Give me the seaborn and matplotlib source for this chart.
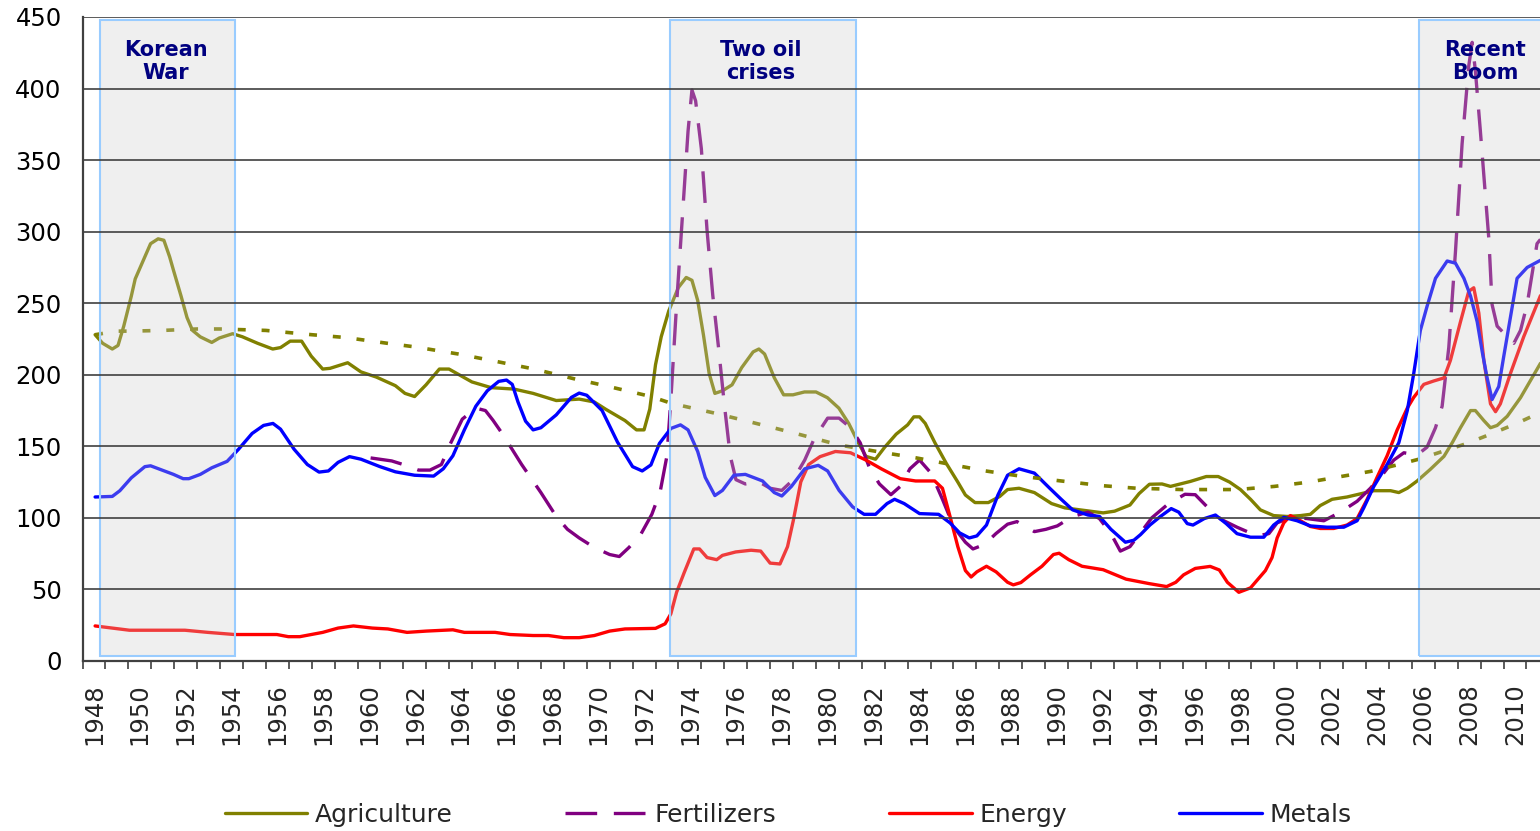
#!/usr/bin/env python3
import matplotlib
matplotlib.use('Agg')
import matplotlib.pyplot as plt
from matplotlib.ticker import FixedLocator, NullFormatter
import seaborn as sns
import numpy as np

# ---- data (index values, decimal years) ----
agri_years = [1948.55, 1948.88, 1949.3, 1949.55, 1949.8, 1950.13, 1950.3, 1950.64, 1950.97, 1951.3,
              1951.55, 1951.8, 1951.97, 1952.3, 1952.56, 1952.8, 1953.14, 1953.64, 1953.97, 1954.55,
              1954.97, 1955.64, 1956.3, 1956.64, 1957.06, 1957.56, 1957.98, 1958.48, 1958.8, 1959.57,
              1960.15, 1960.82, 1961.65, 1962.07, 1962.49, 1962.99, 1963.57, 1963.99, 1964.99, 1965.83,
              1966.83, 1967.66, 1968.67, 1969.67, 1970.33, 1970.84, 1971.67, 1972.17, 1972.5, 1972.75,
              1973.0, 1973.25, 1973.58, 1974.0, 1974.34, 1974.59, 1974.84, 1975.09, 1975.34, 1975.59,
              1975.92, 1976.34, 1976.76, 1977.26, 1977.51, 1977.76, 1978.18, 1978.59, 1979.0, 1979.5,
              1980.0, 1980.5, 1981.0, 1981.43, 1981.85, 1982.18, 1982.6, 1983.0, 1983.5, 1984.0,
              1984.27, 1984.52, 1984.77, 1985.19, 1985.69, 1986.19, 1986.52, 1986.94, 1987.52, 1988.02,
              1988.36, 1988.86, 1989.53, 1990.28, 1990.86, 1991.53, 1992.53, 1993.03, 1993.7, 1994.1,
              1994.55, 1995.1, 1995.47, 1996.34, 1997.03, 1997.55, 1998.05, 1998.52, 1998.96, 1999.39,
              1999.97, 2000.56, 2001.14, 2001.57, 2002.0, 2002.52, 2003.17, 2003.76, 2004.34, 2005.07,
              2005.43, 2005.8, 2006.23, 2006.81, 2007.4, 2007.76, 2008.12, 2008.56, 2008.77, 2009.14,
              2009.43, 2009.72, 2010.16, 2010.74, 2011.61]
agri_values = [228, 222, 218, 220.5, 234, 255, 267, 279.5, 291.6, 295,
               294, 282.5, 273, 255, 240, 231, 226.5, 222.6, 225.7, 228.7,
               226.6, 222, 218, 219, 223.5, 223.5, 213, 204, 204.5, 208.4,
               202, 198.4, 192.4, 187, 184.8, 193, 204, 204, 195, 191,
               190, 187, 182, 183, 181, 175.8, 168, 161.5, 161.5, 176,
               207, 226.6, 244.7, 261, 268, 266, 252, 228, 201, 187,
               188.8, 193, 205, 216, 218, 214.5, 198, 186, 186, 188,
               188, 184, 176.7, 166, 152.5, 143, 141, 149.4, 158.5, 165,
               170.6, 170.6, 166, 152.5, 138, 125, 116, 110.7, 110.7, 115,
               119.8, 120.7, 117.7, 110, 107, 105.6, 103.5, 104.7, 109, 117,
               123.5, 123.7, 122, 125.5, 128.9, 128.9, 125, 119.8, 113, 105.6,
               101.6, 101, 101.6, 102.5, 108.6, 113, 114.6, 116.8, 119, 119,
               117.7, 120.7, 125.8, 134, 143, 152.5, 163, 175, 175, 168,
               163, 164.6, 171, 184, 208]

trend_years = [1948.55, 1949.5, 1950.1, 1951.5, 1953, 1954, 1956, 1958, 1959.5, 1961.3,
               1962.5, 1964.4, 1966, 1967.7, 1969.5, 1970.8, 1972.8, 1973.7, 1975.5, 1977,
               1979, 1981, 1982.8, 1984.35, 1986, 1987.4, 1989, 1990.7, 1992.5, 1994,
               1996, 1998.4, 2000, 2001.5, 2002.9, 2004.2, 2005.35, 2006.3, 2007.25, 2008.4,
               2009.43, 2010.5, 2011.6]
trend_values = [228, 230.5, 230.5, 231, 232, 232, 231, 228, 226, 222,
                219.5, 214.5, 209.5, 204, 197, 192.4, 184.8, 180, 173.5, 167.6,
                159.5, 151, 146, 142, 137, 132.8, 129, 125.8, 122.5, 120.7,
                119.8, 119.8, 122, 125, 128.9, 132.5, 137, 141, 146, 152,
                158.5, 165.5, 173.6]

fert_years = [1960.57, 1961.49, 1961.99, 1962.66, 1963.16, 1963.66, 1964.07, 1964.57, 1965.16, 1965.58,
              1965.91, 1966.33, 1967.16, 1968.0, 1968.67, 1969.16, 1969.67, 1970.33, 1971.0, 1971.42,
              1971.84, 1972.34, 1972.84, 1973.2, 1973.5, 1973.67, 1973.92, 1974.17, 1974.42, 1974.59,
              1974.75, 1975.0, 1975.25, 1975.5, 1975.75, 1976.0, 1976.26, 1976.51, 1976.92, 1977.51,
              1978.0, 1978.51, 1979.01, 1979.51, 1979.93, 1980.51, 1981.01, 1981.51, 1981.93, 1982.35,
              1982.77, 1983.27, 1983.68, 1984.1, 1984.52, 1985.02, 1985.52, 1986.02, 1986.52, 1986.85,
              1987.35, 1987.85, 1988.36, 1988.77, 1989.03, 1989.53, 1990.03, 1990.53, 1991.2, 1991.87,
              1992.37, 1992.87, 1993.28, 1993.7, 1994.18, 1994.65, 1995.35, 1996.1, 1996.55, 1997.05,
              1997.67, 1998.37, 1999.25, 1999.76, 2000.12, 2000.7, 2001.43, 2002.16, 2002.88, 2003.61,
              2004.19, 2004.77, 2005.21, 2005.65, 2006.23, 2006.66, 2007.03, 2007.32, 2007.61, 2007.9,
              2008.19, 2008.48, 2008.63, 2008.77, 2008.99, 2009.21, 2009.36, 2009.5, 2009.72, 2010.16,
              2010.45, 2010.74, 2011.03, 2011.46, 2011.61]
fert_values = [141.9, 139.8, 137.3, 133.4, 133.4, 137.3, 152.5, 169, 176.7, 175,
               168.2, 158.5, 137.3, 117.7, 101, 92, 86, 79.3, 74.4, 73,
               79.3, 88, 102.5, 118, 143.4, 182.7, 249.3, 309.8, 370.3, 399,
               391.4, 358, 300.7, 255.3, 219, 179.7, 143.4, 126.7, 123.7, 125.2,
               120.7, 119.2, 126.7, 140.4, 155.5, 169.7, 169.7, 163, 152.5, 134.3,
               123.7, 116.2, 122, 134.3, 140.4, 131.3, 113, 93.5, 83, 78.3,
               81.4, 89, 95.6, 97.4, 95, 90.4, 92, 94.4, 101, 104,
               99.5, 89, 76.8, 79.9, 90, 100, 109.5, 116.5, 116.2, 108,
               99, 93.5, 87.4, 89, 96.5, 100.4, 99.5, 98, 104, 111.6,
               120.7, 131.3, 140.4, 145.5, 144, 149.4, 163, 178, 219, 285.6,
               361.2, 415.6, 432.3, 412.6, 370, 325, 294.6, 249, 234, 226.6,
               222, 231, 249.3, 291.6, 294.6]

energy_years = [1948.55, 1949.3, 1950.05, 1952.47, 1953.47, 1954.64, 1956.48, 1956.98, 1957.48, 1958.48,
                1959.15, 1959.82, 1960.65, 1961.32, 1962.16, 1963.0, 1964.16, 1964.66, 1966.0, 1966.66,
                1967.66, 1968.33, 1969.0, 1969.67, 1970.33, 1971.0, 1971.67, 1973.0, 1973.42, 1973.67,
                1973.92, 1974.25, 1974.67, 1974.92, 1975.25, 1975.67, 1975.92, 1976.5, 1977.17, 1977.59,
                1978.0, 1978.43, 1978.76, 1979.01, 1979.34, 1979.68, 1980.18, 1980.85, 1981.51, 1982.18,
                1982.85, 1983.68, 1984.35, 1985.18, 1985.52, 1985.85, 1986.19, 1986.52, 1986.77, 1987.02,
                1987.44, 1987.86, 1988.36, 1988.61, 1988.94, 1989.36, 1989.86, 1990.36, 1990.61, 1991.03,
                1991.61, 1992.53, 1993.53, 1994.53, 1995.3, 1995.7, 1996.04, 1996.55, 1997.2, 1997.6,
                1997.95, 1998.45, 1998.96, 1999.61, 1999.9, 2000.12, 2000.41, 2000.7, 2001.14, 2001.57,
                2002.01, 2002.59, 2003.17, 2003.61, 2004.05, 2004.48, 2004.92, 2005.36, 2005.8, 2006.08,
                2006.52, 2006.96, 2007.4, 2007.68, 2008.12, 2008.48, 2008.7, 2008.92, 2009.14, 2009.43,
                2009.65, 2009.86, 2010.3, 2010.88, 2011.61]
energy_values = [24.5, 23, 21.5, 21.5, 20, 18.5, 18.5, 17, 17, 20,
                 23, 24.5, 23, 22.4, 20, 20.9, 21.8, 20, 20, 18.5,
                 17.8, 17.8, 16.3, 16.3, 17.8, 20.9, 22.4, 22.8, 26, 33,
                 48, 61.7, 78.3, 78.3, 72.3, 70.8, 73.8, 76.2, 77.4, 76.8,
                 68.4, 67.8, 79.9, 98, 125.2, 137.3, 142.8, 146.4, 145.5, 140.4,
                 134.3, 127.4, 125.8, 125.8, 120.7, 101, 79.9, 63.2, 58.7, 62.3,
                 66.2, 62.3, 55, 53.2, 54.8, 60.2, 66.2, 74.4, 75.3, 70.8,
                 66.2, 63.8, 57.2, 54.1, 52, 55, 60.2, 64.7, 66.1, 63.6,
                 55, 48, 51.1, 63.2, 72.3, 85.9, 96.5, 101.6, 98, 94,
                 92.6, 92.6, 95, 99.5, 113, 128.3, 143.4, 161.5, 176.7, 184.2,
                 193.3, 195.7, 197.8, 210, 237, 258.3, 260.8, 243.2, 210, 179.7,
                 174.2, 179.7, 200.9, 226.6, 255.3]

metals_years = [1948.55, 1949.3, 1949.63, 1950.13, 1950.72, 1950.97, 1951.47, 1951.97, 1952.39, 1952.64,
                1953.14, 1953.64, 1954.31, 1954.81, 1955.4, 1955.9, 1956.31, 1956.64, 1957.23, 1957.81,
                1958.32, 1958.73, 1959.15, 1959.65, 1960.15, 1960.98, 1961.65, 1962.49, 1963.32, 1963.74,
                1964.16, 1964.66, 1965.16, 1965.66, 1966.16, 1966.5, 1966.75, 1967.0, 1967.33, 1967.66,
                1968.0, 1968.67, 1969.33, 1969.67, 1970.0, 1970.67, 1971.34, 1972.0, 1972.42, 1972.8,
                1973.17, 1973.67, 1974.09, 1974.42, 1974.84, 1975.17, 1975.59, 1975.92, 1976.42, 1976.92,
                1977.67, 1978.18, 1978.51, 1978.93, 1979.51, 1980.1, 1980.51, 1981.01, 1981.6, 1982.1,
                1982.6, 1983.1, 1983.43, 1983.85, 1984.52, 1985.35, 1985.85, 1986.27, 1986.69, 1987.02,
                1987.44, 1987.94, 1988.36, 1988.86, 1989.53, 1990.2, 1990.7, 1991.2, 1991.87, 1992.37,
                1992.87, 1993.5, 1993.87, 1994.16, 1994.57, 1995.03, 1995.5, 1995.83, 1996.2, 1996.45,
                1996.94, 1997.43, 1997.9, 1998.37, 1998.96, 1999.54, 1999.97, 2000.41, 2000.99, 2001.57,
                2002.3, 2003.03, 2003.61, 2003.9, 2004.34, 2004.92, 2005.43, 2005.8, 2006.08, 2006.37,
                2006.66, 2007.03, 2007.54, 2007.9, 2008.27, 2008.56, 2008.85, 2009.07, 2009.28, 2009.5,
                2009.79, 2010.01, 2010.3, 2010.59, 2011.03, 2011.61]
metals_values = [114.6, 115, 119, 128, 135.8, 136.4, 133.4, 130.4, 127.4, 127.4,
                 130.4, 135, 139.5, 148, 159, 164.6, 166, 162, 148, 137.3,
                 132, 132.8, 138.8, 142.8, 141, 135.8, 132.2, 129.8, 129.2, 134.3,
                 143.4, 161.5, 178, 188.8, 195.4, 196.3, 193.3, 181, 167.6, 161.5,
                 163, 172, 184.2, 187.2, 185.7, 175, 153, 135.8, 132.8, 137,
                 152, 162.5, 165, 161.5, 146.4, 128.3, 115.6, 119.2, 129.8, 130.4,
                 125.8, 117.7, 115.3, 122, 134.3, 136.7, 132.8, 119.2, 107.7, 102.5,
                 102.5, 110, 113, 110, 103, 102.5, 96.5, 89.5, 86, 87.4,
                 95, 116, 129.8, 134.3, 131.3, 120.7, 113, 105.6, 102, 101,
                 92, 83, 84.4, 88.3, 95, 101, 106.5, 104, 96, 95,
                 99.5, 102, 96, 89, 86.5, 86.5, 95, 100.4, 98, 94.4,
                 93.5, 93.5, 98, 107, 122, 137.3, 152.5, 175, 200.8, 231,
                 247.7, 267.4, 279.5, 278, 267.4, 255, 237, 216, 198, 182.7,
                 191.8, 213, 240, 267.4, 275, 280]

episodes = ['Korean\nWar', 'Two oil\ncrises', 'Recent\nBoom']
episode_start = [1948.76, 1973.63, 2006.33]
episode_end = [1954.65, 1981.75, 2011.9]
episode_label_x = [1951.65, 1977.6, 2009.2]

label_years = list(range(1948, 2011, 2))

# ---- figure ----
sns.set_style('white')
plt.rcParams['font.family'] = ['DejaVu Sans']

fig = plt.figure(figsize=(15.4, 8.31), dpi=100)
ax = fig.add_axes([82.5 / 1540, 1 - 661 / 831, 1 - 82.5 / 1540, 644 / 831])

lw = 2.4
sns.lineplot(x=agri_years, y=agri_values, ax=ax, color='#808000', linewidth=lw,
             label='Agriculture', errorbar=None, sort=False)
sns.lineplot(x=fert_years, y=fert_values, ax=ax, color='#800080', linewidth=lw,
             label='Fertilizers', errorbar=None, sort=False)
ax.lines[-1].set_dashes((9.5, 5))
sns.lineplot(x=energy_years, y=energy_values, ax=ax, color='#ff0000', linewidth=lw,
             label='Energy', errorbar=None, sort=False)
sns.lineplot(x=metals_years, y=metals_values, ax=ax, color='#0000ff', linewidth=lw,
             label='Metals', errorbar=None, sort=False)
sns.lineplot(x=trend_years, y=trend_values, ax=ax, color='#808000', linewidth=2.6,
             label='_trend', errorbar=None, sort=False)
ax.lines[-1].set_dashes((2.2, 4.4))

handles = ax.lines[:4]
labels = ['Agriculture', 'Fertilizers', 'Energy', 'Metals']
if ax.get_legend() is not None:
    ax.get_legend().remove()

# shaded episodes, drawn over the lines so they look faded
for name, x0, x1, xl in zip(episodes, episode_start, episode_end, episode_label_x):
    ax.axvspan(x0, x1, ymin=0.0082, ymax=0.9953, facecolor='#cacaca', alpha=0.3,
               edgecolor='none', zorder=2.2)
    ax.axvspan(x0, x1, ymin=0.0082, ymax=0.9953, fill=False,
               edgecolor='#99ccff', linewidth=1.5, zorder=2.3)
    ax.text(xl, 419, name, ha='center', va='center', fontsize=15, weight='bold',
            color='#000080', linespacing=1.15, zorder=5)

ax.set_xlim(1948.0, 2011.59)
ax.set_ylim(0, 450)
ax.set_yticks(np.arange(0, 451, 50))
ax.tick_params(axis='y', length=0, pad=15, labelsize=17.5, labelcolor='black')

ax.xaxis.set_major_locator(FixedLocator([y + 0.5 for y in label_years]))
ax.set_xticklabels([str(y) for y in label_years], rotation=90, va='top')
ax.xaxis.set_minor_locator(FixedLocator(list(range(1948, 2012))))
ax.xaxis.set_minor_formatter(NullFormatter())
ax.tick_params(axis='x', which='major', length=0, pad=16, labelsize=17.5)
ax.tick_params(axis='x', which='minor', length=6, width=1.2, color='#404040',
               direction='out', bottom=True)

ax.set_axisbelow(False)
ax.yaxis.grid(True, color='#404040', linewidth=1.2)
ax.xaxis.grid(False)
for side in ['top', 'right']:
    ax.spines[side].set_visible(False)
for side in ['left', 'bottom']:
    ax.spines[side].set_color('#404040')
    ax.spines[side].set_linewidth(1.6)
ax.set_xlabel('')
ax.set_ylabel('')

fig.legend(handles, labels, loc='center', bbox_to_anchor=(788 / 1540, 1 - 815 / 831),
           ncol=4, frameon=False, fontsize=18, handlelength=3.3, handletextpad=0.3,
           columnspacing=4.5)

plt.savefig('out.png', dpi=100)
plt.close()
